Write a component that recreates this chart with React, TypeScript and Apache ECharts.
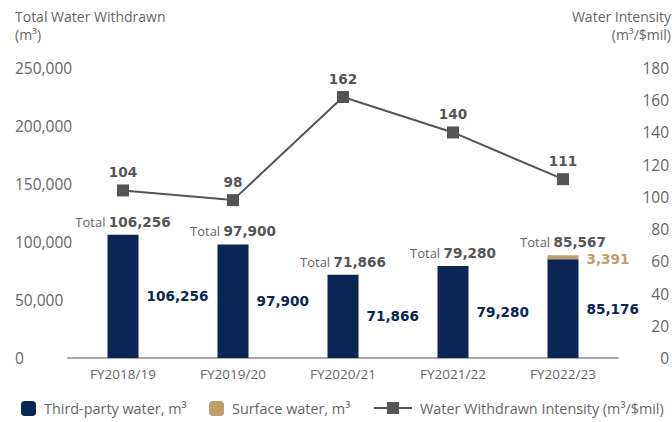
import React, { useEffect, useRef } from "react";
import * as echarts from "echarts";

const categories = ["FY2018/19", "FY2019/20", "FY2020/21", "FY2021/22", "FY2022/23"];
const thirdParty = [106256, 97900, 71866, 79280, 85176];
const surface = [0, 0, 0, 0, 3391];
const totals = [106256, 97900, 71866, 79280, 85567];
const intensity = [104, 98, 162, 140, 111];
const leftTicks = { min: 0, max: 250000, interval: 50000 };
const rightTicks = { min: 0, max: 180, interval: 20 };
const leftName = ["Total Water Withdrawn", "(m³)"];
const rightName = ["Water Intensity", "(m³/$mil)"];

const FONT = "'Open Sans', sans-serif";
const BOLD = "'DejaVu Sans', sans-serif";
const NAVY = "#0b2555";
const BROWN = "#c09e6c";
const GREY = "#666666";
const DARK = "#555555";

const fmt = (v: number) => v.toLocaleString("en-US");

export default function App() {
  const ref = useRef<HTMLDivElement>(null);
  useEffect(() => {
    if (!ref.current) return;
    const chart = echarts.init(ref.current, undefined, { renderer: "svg" });
    const legendBase = {
      top: 401,
      padding: 0,
      itemHeight: 15,
      itemGap: 0,
      itemStyle: { borderWidth: 0 },
      textStyle: { color: GREY, fontSize: 14.4, fontFamily: FONT, padding: [0, 0, 0, 3] },
    };
    const nameText = (text: string, top: number, side: "left" | "right") => ({
      type: "text",
      [side]: side === "left" ? 15 : 1,
      top,
      style: {
        text,
        fill: GREY,
        fontSize: 14,
        lineHeight: 15,
        align: side === "left" ? "left" : "right",
        fontFamily: FONT,
      },
    });
    chart.setOption({
      animation: false,
      textStyle: { fontFamily: FONT },
      grid: { left: 68, right: 52, top: 68, bottom: 64, containLabel: false },
      graphic: [
        nameText(leftName[0], 9, "left"),
        nameText(leftName[1], 27, "left"),
        nameText(rightName[0], 9, "right"),
        nameText(rightName[1], 27, "right"),
      ],
      legend: [
        { ...legendBase, left: 21, itemWidth: 15, data: ["Third-party water, m³"] },
        { ...legendBase, left: 209, itemWidth: 15, data: ["Surface water, m³"] },
        { ...legendBase, left: 373, itemWidth: 38, data: ["Water Withdrawn Intensity (m³/$mil)"] },
      ],
      xAxis: {
        type: "category",
        data: categories,
        axisLine: { lineStyle: { color: "#a8a8a8", width: 2 } },
        axisTick: { show: false },
        axisLabel: { color: GREY, fontSize: 13.5, margin: 9, fontFamily: FONT },
      },
      yAxis: [
        {
          type: "value",
          ...leftTicks,
          splitLine: { show: false },
          axisLine: { show: false },
          axisTick: { show: false },
          axisLabel: {
            color: GREY,
            fontSize: 15.5,
            align: "left",
            margin: 53,
            fontFamily: FONT,
            formatter: (v: number) => fmt(v),
          },
        },
        {
          type: "value",
          position: "right",
          ...rightTicks,
          splitLine: { show: false },
          axisLine: { show: false },
          axisTick: { show: false },
          axisLabel: { color: GREY, fontSize: 15.5, align: "right", margin: 51, fontFamily: FONT },
        },
      ],
      series: [
        {
          name: "Third-party water, m³",
          type: "bar",
          stack: "w",
          stackStrategy: "all",
          barWidth: 31,
          data: thirdParty,
          itemStyle: { color: NAVY },
          label: {
            show: true,
            position: "right",
            distance: 8,
            color: NAVY,
            fontWeight: "bold",
            fontSize: 13.6,
            fontFamily: BOLD,
            formatter: (p: any) => fmt(p.value),
          },
        },
        {
          name: "Surface water, m³",
          type: "bar",
          stack: "w",
          stackStrategy: "all",
          barWidth: 31,
          data: surface,
          itemStyle: { color: BROWN },
          label: {
            show: true,
            position: "right",
            distance: 8,
            color: BROWN,
            fontWeight: "bold",
            fontSize: 13.6,
            fontFamily: BOLD,
            offset: [0, 2],
            formatter: (p: any) => (p.value > 0 ? fmt(p.value) : ""),
          },
        },
        {
          name: "totals",
          type: "bar",
          stack: "w",
          stackStrategy: "all",
          barWidth: 31,
          data: totals.map(() => 0),
          itemStyle: { color: "transparent" },
          label: {
            show: true,
            position: "top",
            distance: 6,
            formatter: (p: any) => `{t|Total }{v|${fmt(totals[p.dataIndex])}}`,
            rich: {
              t: { color: GREY, fontSize: 13, fontFamily: FONT, lineHeight: 14 },
              v: { color: DARK, fontSize: 13.6, fontWeight: "bold", fontFamily: BOLD, lineHeight: 14 },
            },
          },
        },
        {
          name: "Water Withdrawn Intensity (m³/$mil)",
          type: "line",
          yAxisIndex: 1,
          data: intensity,
          symbol: "rect",
          symbolSize: 12,
          lineStyle: { color: DARK, width: 2 },
          itemStyle: { color: DARK },
          label: {
            show: true,
            position: "top",
            distance: 5,
            color: DARK,
            fontWeight: "bold",
            fontSize: 13.6,
            fontFamily: BOLD,
          },
        },
      ],
    });
    return () => chart.dispose();
  }, []);
  return <div ref={ref} style={{ width: 672, height: 422, position: "absolute", left: 0, top: 0 }} />;
}
